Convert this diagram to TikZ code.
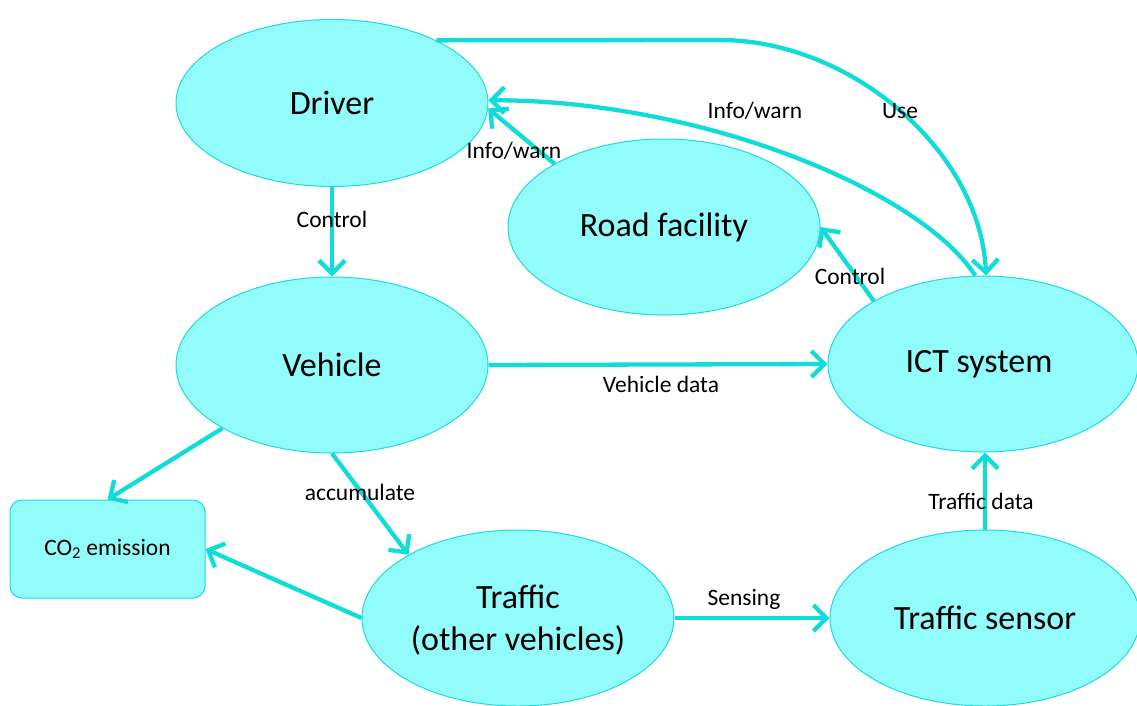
\documentclass[tikz,border=0pt]{standalone}
\usepackage{fontspec}
\setmainfont{Carlito}
\usetikzlibrary{shapes.geometric,arrows.meta}
\definecolor{nodefill}{HTML}{91FCF9}
\definecolor{nodeline}{HTML}{1DDCDA}
\definecolor{edgecol}{HTML}{0FDDD8}
\tikzset{
  bubble/.style={ellipse, draw=nodeline, fill=nodefill, line width=1pt, inner sep=0pt,
    minimum width=312pt, minimum height=176pt, font=\fontsize{34}{42}\selectfont, align=center},
  co2box/.style={rectangle, rounded corners=12pt, draw=nodeline, fill=nodefill, line width=1pt,
    minimum width=195pt, minimum height=98pt, inner sep=0pt, font=\fontsize{23.5}{28}\selectfont},
  link/.style={draw=edgecol, line width=4.3pt, -{Straight Barb[length=13pt,width=26pt,line width=4.3pt]}},
  lbl/.style={font=\fontsize{23.5}{28}\selectfont, inner sep=0pt, text=black},
}
\begin{document}
\begin{tikzpicture}[x=1pt,y=-1pt]
\path[fill=white] (0,0) rectangle (1137,705);
\useasboundingbox (0,0) rectangle (1137,705);
\begin{scope}
\clip (0,0) rectangle (1137,705);
\node[bubble, minimum height=167pt] (drv) at (332,103) {Driver};
\node[bubble] (road) at (664,227) {Road facility};
\node[bubble] (veh) at (332,365) {Vehicle};
\node[bubble, minimum width=310pt] (ict) at (983,364) {\hspace*{-8pt}ICT system};
\node[bubble, text depth=0pt] (trf) at (518,618) {Traffic\\(other vehicles)};
\node[bubble, minimum width=310pt] (sen) at (985,618) {Traffic sensor};
\node[co2box] (co2) at (107.5,549) {CO\textsubscript{2} emission};

% edges
\draw[link] (drv.31) -- (720,40) .. controls (850,40) and (980,150) .. (ict.88);
\draw[link] (ict.95) .. controls (920,190) and (700,100) .. (drv.1);
\draw[link] (road.150) -- (drv.-2);
\draw[link] (drv.south) -- (veh.north);
\draw[link] (ict.150) -- (road.east);
\draw[link] (veh.east) -- (ict.west);
\draw[link] (veh.-150) -- (co2.north);
\draw[link] (veh.south) -- (trf.150);
\draw[link] (trf.west) -- (co2.east);
\draw[link] (trf.east) -- (sen.west);
\draw[link] (sen.north) -- (sen.north |- ict.south);

% labels
\node[lbl] (l1) at (332,219) {Control};
\node[lbl] (l2) at (900,111) {Use};
\node[lbl] (l3) at (755,111) {Info/warn};
\node[lbl] (l4) at (514,151) {Info/warn};
\node[lbl] (l5) at (850,276) {Control};
\node[lbl] (l6) at (661,384) {Vehicle data};
\node[lbl] (l7) at (360,492) {accumulate};
\node[lbl] (l8) at (744,599) {Sensing};
\node[lbl] (l9) at (981,501) {Traffic data};
\end{scope}
\end{tikzpicture}
\end{document}
